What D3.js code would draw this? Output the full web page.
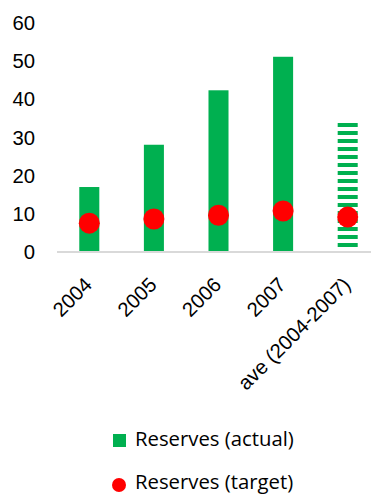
<!DOCTYPE html>
<html>
<head>
<meta charset="utf-8">
<script src="https://cdnjs.cloudflare.com/ajax/libs/d3/7.8.5/d3.min.js"></script>
<style>
  html, body { margin: 0; padding: 0; background: #fff; }
  svg { display: block; font-family: "Open Sans", "Liberation Sans", sans-serif; }
</style>
</head>
<body>
<svg id="chart" width="371" height="495"></svg>
<script>
// Reserves by year, with the 2004-2007 average as the last category
const categories = ["2004", "2005", "2006", "2007", "ave (2004-2007)"];
const actual = [16.8, 27.9, 42.2, 51.0, 33.8];
const target = [7.3, 8.4, 9.4, 10.5, 8.9];
const yTicks = [0, 10, 20, 30, 40, 50, 60];
const seriesNames = ["Reserves (actual)", "Reserves (target)"];

const green = "#00B050";
const red = "#FF0000";

const svg = d3.select("#chart");

// Pick a font size so the legend label spans about 159px
const probe = svg.append("text").attr("font-size", 20).text(seriesNames[0]);
const fs = Math.min(24, Math.max(16, 20 * 159 / probe.node().getComputedTextLength()));
probe.remove();

const x = d3.scaleBand().domain(categories).range([57, 380]).paddingInner(0.69).paddingOuter(0.345);
const y = d3.scaleLinear().domain([0, 60]).range([251, 22.5]);

// Horizontal stripe pattern for the average bar
const stripe = svg.append("defs").append("pattern")
  .attr("id", "stripes")
  .attr("patternUnits", "userSpaceOnUse")
  .attr("width", 8).attr("height", 8)
  .attr("y", y(0));
stripe.append("rect").attr("x", 0).attr("y", 0).attr("width", 8).attr("height", 4).attr("fill", green);

// Y axis labels
const yAxis = svg.append("g").attr("transform", "translate(35,0)")
  .call(d3.axisLeft(y).tickValues(yTicks).tickSize(0).tickPadding(0));
yAxis.select(".domain").remove();
yAxis.selectAll("text").attr("font-size", fs).attr("fill", "#000").attr("dy", "0.36em");

// Bars
svg.append("g").selectAll("rect")
  .data(categories)
  .join("rect")
  .attr("x", d => x(d))
  .attr("width", x.bandwidth())
  .attr("y", (d, i) => y(actual[i]))
  .attr("height", (d, i) => y(0) - y(actual[i]))
  .attr("fill", (d, i) => i === categories.length - 1 ? "url(#stripes)" : green);

// Baseline
svg.append("line")
  .attr("x1", 57).attr("x2", 380)
  .attr("y1", y(0) + 1).attr("y2", y(0) + 1)
  .attr("stroke", "#D9D9D9").attr("stroke-width", 2);

// Target markers
svg.append("g").selectAll("circle")
  .data(categories)
  .join("circle")
  .attr("cx", d => x(d) + x.bandwidth() / 2)
  .attr("cy", (d, i) => y(target[i]))
  .attr("r", 10.5)
  .attr("fill", red);

// Rotated category labels
const xAxis = svg.append("g").attr("transform", `translate(0,${y(0)})`)
  .call(d3.axisBottom(x).tickSize(0).tickPadding(0));
xAxis.select(".domain").remove();
xAxis.selectAll("text")
  .attr("font-size", fs)
  .attr("fill", "#000")
  .attr("text-anchor", "end")
  .attr("y", 0)
  .attr("dy", 0)
  .attr("transform", "translate(4,35) rotate(-45)");

// Legend
const legend = svg.append("g").attr("font-size", fs).attr("fill", "#000");
legend.append("rect").attr("x", 113).attr("y", 434).attr("width", 13).attr("height", 13).attr("fill", green);
legend.append("text").attr("x", 135).attr("y", 446).text(seriesNames[0]);
legend.append("circle").attr("cx", 119).attr("cy", 485).attr("r", 7).attr("fill", red);
legend.append("text").attr("x", 135).attr("y", 489).text(seriesNames[1]);
</script>
</body>
</html>
